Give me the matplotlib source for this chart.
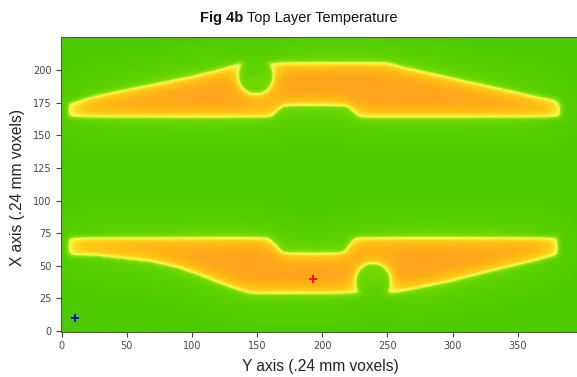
#!/bin/env python3

import numpy as np
import matplotlib
matplotlib.use("Agg")
import matplotlib.pyplot as plt
from matplotlib.path import Path
from matplotlib.colors import LinearSegmentedColormap

# part outlines (voxel coords)
upper_x = [4, 15, 30, 50, 75, 100, 120, 135, 252, 262, 290, 312, 340, 362, 380, 384, 384, 229, 219, 170, 160, 4]
upper_y = [175, 178, 182, 186, 191, 196, 201, 206, 206, 203, 197, 192, 186, 181, 178, 174, 163, 163, 172, 172, 163, 163]
lower_x = [4, 4, 160, 170, 216, 224, 382, 382, 370, 340, 300, 252, 145, 125, 107, 90, 68, 30, 6]
lower_y = [60, 72, 72, 60.5, 60.5, 72, 72, 58, 55, 48, 38, 28, 28, 35, 42, 48, 53, 57, 58]
holes_x = [149, 239]
holes_y = [195, 39]
holes_r = [13, 13]

nrows, ncols = 226, 400

points_x = [10, 193]
points_y = [10, 40]
points_c = ['blue', 'red']


def blur(a, sigma):
    r = int(3 * sigma) + 1
    k = np.exp(-0.5 * (np.arange(-r, r + 1) / sigma) ** 2)
    k /= k.sum()
    p = np.pad(a, r, mode='edge')
    p = np.apply_along_axis(lambda v: np.convolve(v, k, mode='valid'), 1, p)
    p = np.apply_along_axis(lambda v: np.convolve(v, k, mode='valid'), 0, p)
    return p


yy, xx = np.mgrid[0:nrows, 0:ncols]
pts = np.column_stack([xx.ravel(), yy.ravel()])
mask = np.zeros(nrows * ncols, dtype=bool)
for px, py in [(upper_x, upper_y), (lower_x, lower_y)]:
    mask |= Path(np.column_stack([px, py])).contains_points(pts)
mask = mask.reshape(nrows, ncols).astype(float)
for cx, cy, r in zip(holes_x, holes_y, holes_r):
    mask[(xx - cx) ** 2 + (yy - cy) ** 2 <= r ** 2] = 0

s = blur(mask, 1.8)
w = blur(mask, 7)
b = blur(mask, 16)
temp = 0.45 * b * (1 - s) + s * (0.5 + 0.5 * w ** 2)

cmap = LinearSegmentedColormap.from_list('temp', [
    (0.0, '#4ccb00'), (0.15, '#5fd300'), (0.38, '#8ce000'),
    (0.5, '#f4ff72'), (0.6, '#ffea30'), (0.72, '#ffcc14'),
    (0.88, '#ffb216'), (1.0, '#ffa41c')])

fig = plt.figure(figsize=(5.77, 3.77), dpi=100)
W, H = 577, 377
ax = fig.add_axes([61 / W, 1 - 331.7 / H, (582 - 61) / W, (331.7 - 37) / H])
ax.imshow(temp, origin='lower', cmap=cmap, vmin=0, vmax=1,
          interpolation='bilinear', aspect='auto')
for px, py, c in zip(points_x, points_y, points_c):
    ax.plot(px, py, marker='+', color=c, markersize=6, mew=1.3)
ax.set_xlim(-0.5, (582 - 61) / 1.303 - 0.5)
ax.set_ylim(-0.5, 225.5)
ax.set_xticks(np.arange(0, 351, 50))
ax.set_yticks(np.arange(0, 201, 25))
ax.tick_params(labelsize=7, colors='#444444', length=3.5, width=0.8)
for sp in ax.spines.values():
    sp.set_color('#555555')
    sp.set_linewidth(0.8)
ax.grid(False)

lab = dict(family='Liberation Sans', fontsize=11.2, color='#222222')
fig.text(18 / W, 1 - 188 / H, 'X axis (.24 mm voxels)', rotation=90,
         ha='center', va='center', **lab)
fig.text(320 / W, 1 - 367 / H, 'Y axis (.24 mm voxels)',
         ha='center', va='center', **lab)

t1 = fig.text(200 / W, 1 - 22 / H, 'Fig 4b', family='Liberation Sans',
              fontsize=10.5, fontweight='bold', color='#111111', va='baseline')
fig.canvas.draw()
bb = t1.get_window_extent()
fig.text(bb.x1 / W, 1 - 22 / H, ' Top Layer Temperature', family='Liberation Sans',
         fontsize=10.5, color='#111111', va='baseline')

fig.savefig('out.png', dpi=100)
